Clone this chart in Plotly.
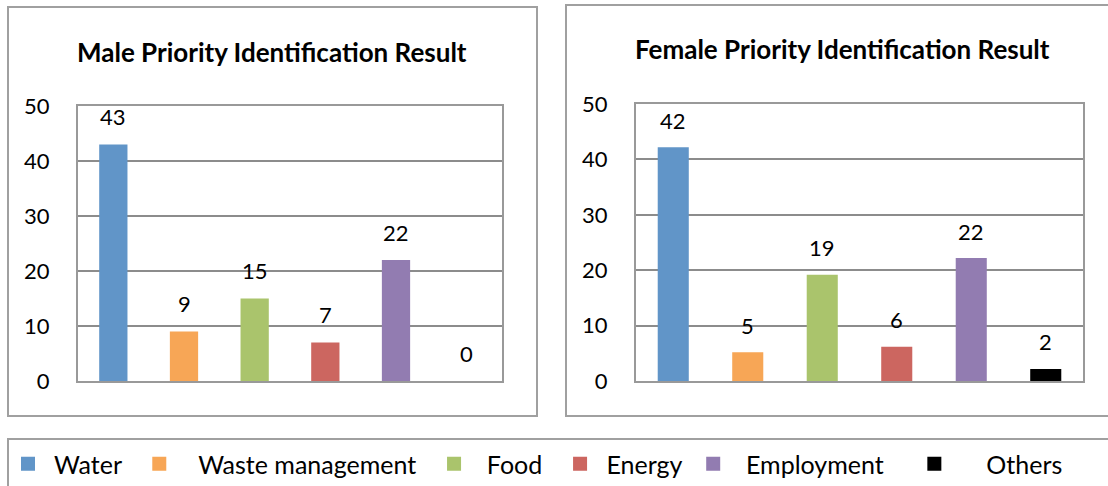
import plotly.graph_objects as go

categories = ["Water", "Waste management", "Food", "Energy", "Employment", "Others"]
male_values = [43, 9, 15, 7, 22, 0]
female_values = [42, 5, 19, 6, 22, 2]
colors = ["#6195C8", "#F7A656", "#AAC46C", "#CC6660", "#927CB1", "#000000"]
NB = "\u00a0"
legend_names = [NB + "Water" + NB * 2,
                NB * 3 + "Waste management" + NB * 2,
                NB * 2 + "Food" + NB * 2,
                NB + "Energy" + NB,
                NB * 2 + "Employment" + NB * 4,
                NB * 5 + "Others"]
titles = ["Male Priority Identification Result", "Female Priority Identification Result"]

W, H = 1108, 486
FONT = "Lato, 'Open Sans', sans-serif"

def px(x):
    return x / W

def py(y):
    return 1 - y / H

fig = go.Figure()

for i, cat in enumerate(categories):
    fig.add_trace(go.Bar(x=[cat], y=[male_values[i]], marker=dict(color=colors[i], line=dict(width=0)),
                         width=0.40, name=legend_names[i], legendgroup=cat, showlegend=False,
                         xaxis="x", yaxis="y"))
    fig.add_trace(go.Bar(x=[cat], y=[female_values[i]], marker=dict(color=colors[i], line=dict(color=colors[i], width=2)),
                         width=0.39, name=legend_names[i], legendgroup=cat, showlegend=True,
                         xaxis="x2", yaxis="y2"))

annotations = []
for i, cat in enumerate(categories):
    annotations.append(dict(x=cat, y=male_values[i], xref="x", yref="y", text=str(male_values[i]),
                            showarrow=False, yshift=28, font=dict(size=22, color="#000", family=FONT)))
    annotations.append(dict(x=cat, y=female_values[i], xref="x2", yref="y2", text=str(female_values[i]),
                            showarrow=False, yshift=28, font=dict(size=22, color="#000", family=FONT)))

annotations.append(dict(x=px(272), y=py(52), xref="paper", yref="paper", text="<b>" + titles[0] + "</b>",
                        showarrow=False, xanchor="center", yanchor="middle",
                        font=dict(size=26, color="#000", family=FONT)))
annotations.append(dict(x=px(842), y=py(49), xref="paper", yref="paper", text="<b>" + titles[1] + "</b>",
                        showarrow=False, xanchor="center", yanchor="middle",
                        font=dict(size=26, color="#000", family=FONT)))

shapes = [
    dict(type="rect", xref="paper", yref="paper", x0=px(8), x1=px(537), y0=py(416), y1=py(7),
         line=dict(color="#A0A0A0", width=2)),
    dict(type="rect", xref="paper", yref="paper", x0=px(566), x1=px(1120), y0=py(416), y1=py(5),
         line=dict(color="#A0A0A0", width=2)),
    dict(type="rect", xref="paper", yref="paper", x0=px(8), x1=px(1120), y0=py(500), y1=py(439),
         line=dict(color="#A0A0A0", width=2)),
]

axis_common = dict(showgrid=False, showticklabels=False, showline=True, linecolor="#999999",
                   linewidth=2, mirror=True, ticks="", fixedrange=True, type="category",
                   categoryorder="array", categoryarray=categories, automargin=False)
yaxis_common = dict(range=[0, 50], dtick=10, showgrid=True, gridcolor="#8C8C8C", gridwidth=1.5,
                    showline=True, linecolor="#999999", linewidth=2, mirror=True, ticks="",
                    tickfont=dict(size=22, color="#000", family=FONT), ticklabelstandoff=22,
                    zeroline=False, fixedrange=True, automargin=False)

fig.update_layout(
    width=W, height=H,
    margin=dict(l=0, r=0, t=0, b=0, autoexpand=False),
    paper_bgcolor="white", plot_bgcolor="white",
    barmode="overlay",
    xaxis=dict(domain=[px(78), px(502)], anchor="y", **axis_common),
    yaxis=dict(domain=[py(381), py(106)], anchor="x", **yaxis_common),
    xaxis2=dict(domain=[px(636), px(1083)], anchor="y2", **axis_common),
    yaxis2=dict(domain=[py(381), py(104)], anchor="x2", **yaxis_common),
    annotations=annotations,
    shapes=shapes,
    legend=dict(orientation="h", x=px(8), y=py(464), xanchor="left", yanchor="middle",
                font=dict(size=25, color="#000", family=FONT), bgcolor="rgba(0,0,0,0)",
                itemsizing="trace", traceorder="normal", itemwidth=30),
    showlegend=True,
)

fig.write_html("out.html")
